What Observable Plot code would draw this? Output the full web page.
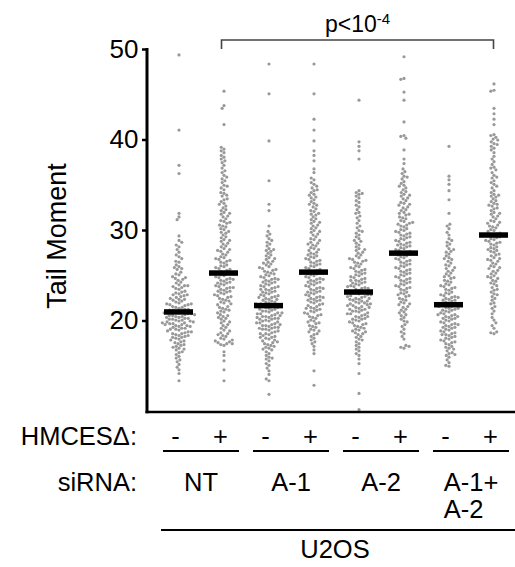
<!DOCTYPE html>
<html><head><meta charset="utf-8">
<script src="https://cdn.jsdelivr.net/npm/d3@7"></script>
<script src="https://cdn.jsdelivr.net/npm/@observablehq/plot@0.6"></script>
<style>
html,body{margin:0;padding:0;background:#fff;overflow:hidden}
#chart{position:relative;width:515px;height:567px}
</style></head><body><div id="chart"></div>
<script>
// ---- categories / labels ----
const siRNA = ["NT", "A-1", "A-2", "A-1+"];
const siRNASecondLine = ["", "", "", "A-2"];
const hmces = ["-", "+"];
const groups = ["NT -", "NT +", "A-1 -", "A-1 +", "A-2 -", "A-2 +", "A-1+A-2 -", "A-1+A-2 +"];
const medians = [21.0, 25.3, 21.7, 25.4, 23.2, 27.5, 21.8, 29.5];
const yTicks = [20, 30, 40, 50];
const yLabel = "Tail Moment";
const pLabel = "p<10";
const pExp = "-4";
const cellLine = "U2OS";

// ---- tail moment values per group ----
const ntMinus = [49.4,41.1,37.2,36.3,31.9,31.5,31.2,29.4,28.9,28.2,28.4,28.7,27.1,27.3,27.6,27.9,26.0,26.2,26.5,26.6,26.9,
25.1,25.2,25.4,25.7,25.8,25.9,24.0,24.2,24.3,24.5,24.6,24.7,24.8,24.9,23.0,23.1,23.2,23.3,23.5,23.6,23.7,23.8,23.9,23.9,
22.0,22.1,22.2,22.3,22.4,22.4,22.6,22.7,22.8,22.9,22.9,22.5,21.0,21.0,21.1,21.2,21.3,21.3,21.4,21.5,21.5,21.6,21.7,21.8,21.8,21.9,21.9,21.2,
20.0,20.1,20.1,20.2,20.3,20.3,20.4,20.5,20.5,20.6,20.6,20.7,20.8,20.8,20.9,20.9,20.2,20.4,20.7,20.0,
19.0,19.1,19.2,19.2,19.3,19.4,19.5,19.5,19.6,19.7,19.7,19.8,19.9,19.9,19.1,19.4,19.6,19.8,
18.0,18.1,18.2,18.3,18.4,18.5,18.6,18.6,18.7,18.8,18.9,18.2,18.4,18.8,17.0,17.2,17.3,17.4,17.5,17.6,17.7,17.8,17.9,17.1,
16.1,16.3,16.5,16.6,16.8,16.9,15.2,15.5,15.7,15.9,14.2,14.6,14.9,13.4];
const ntPlus = [45.4,43.8,43.5,41.7,39.0,39.2,38.1,38.3,38.6,38.8,37.2,37.5,37.7,37.9,36.1,36.4,36.6,36.9,35.0,35.3,35.5,35.7,35.9,
34.1,34.2,34.5,34.7,34.9,33.0,33.2,33.4,33.5,33.8,33.9,32.0,32.2,32.3,32.5,32.7,32.9,31.0,31.1,31.3,31.5,31.6,31.8,31.9,
30.1,30.2,30.4,30.5,30.6,30.8,30.9,29.0,29.2,29.3,29.5,29.7,29.8,29.9,28.0,28.2,28.3,28.5,28.6,28.8,28.9,
27.0,27.1,27.3,27.4,27.6,27.7,27.8,27.9,26.0,26.1,26.2,26.4,26.5,26.6,26.7,26.8,26.9,
25.0,25.1,25.2,25.3,25.4,25.5,25.6,25.7,25.8,25.9,25.3,24.0,24.1,24.2,24.3,24.4,24.5,24.6,24.7,24.8,24.9,24.2,24.6,
23.0,23.1,23.2,23.3,23.4,23.5,23.6,23.7,23.8,23.9,23.3,23.7,22.0,22.1,22.3,22.4,22.5,22.6,22.7,22.8,22.9,22.2,
21.0,21.1,21.3,21.4,21.5,21.6,21.8,21.9,21.2,20.0,20.2,20.3,20.5,20.6,20.7,20.9,20.4,19.0,19.2,19.3,19.5,19.6,19.8,19.9,
18.0,18.1,18.3,18.4,18.6,18.7,18.9,18.5,17.3,17.4,17.5,17.6,17.7,17.8,17.9,17.5,16.2,16.6,15.6,14.6,13.4];
const a1Minus = [48.4,45.1,39.9,35.5,32.9,32.2,30.5,29.1,29.4,29.6,29.9,28.0,28.3,28.5,28.7,28.9,27.0,27.2,27.3,27.5,27.7,27.8,27.9,
26.0,26.2,26.3,26.5,26.6,26.8,26.9,26.4,25.0,25.1,25.3,25.4,25.5,25.6,25.7,25.8,25.9,25.2,
24.0,24.1,24.2,24.3,24.4,24.5,24.6,24.7,24.8,24.9,24.3,24.6,23.0,23.1,23.2,23.3,23.4,23.5,23.6,23.7,23.8,23.9,23.2,23.5,23.8,
22.0,22.1,22.2,22.3,22.4,22.5,22.6,22.7,22.8,22.9,22.1,22.4,22.6,22.8,
21.0,21.1,21.2,21.3,21.4,21.5,21.6,21.7,21.8,21.9,21.1,21.3,21.5,21.6,21.8,21.9,
20.0,20.1,20.2,20.3,20.4,20.5,20.6,20.7,20.8,20.9,20.0,20.2,20.3,20.5,20.6,20.8,20.9,20.4,
19.0,19.1,19.2,19.3,19.4,19.5,19.6,19.7,19.8,19.9,19.1,19.3,19.5,19.6,19.8,19.2,
18.0,18.1,18.2,18.3,18.5,18.6,18.7,18.8,18.9,18.4,18.6,18.2,17.0,17.1,17.3,17.4,17.5,17.6,17.8,17.9,17.2,17.7,
16.0,16.2,16.4,16.6,16.8,16.9,15.1,15.3,15.6,15.8,15.9,14.1,14.5,14.8,13.4,13.6,11.9];
const a1Plus = [48.4,45.1,42.3,41.1,39.9,38.8,38.3,37.7,36.8,36.4,35.1,35.3,35.6,35.8,34.0,34.2,34.4,34.5,34.7,34.9,
33.0,33.2,33.4,33.6,33.7,33.9,32.1,32.2,32.4,32.6,32.8,32.9,31.0,31.2,31.3,31.5,31.7,31.8,31.9,
30.0,30.2,30.3,30.5,30.6,30.8,30.9,29.0,29.1,29.3,29.5,29.6,29.8,29.9,28.0,28.1,28.3,28.4,28.6,28.7,28.9,28.5,
27.0,27.1,27.2,27.4,27.5,27.6,27.8,27.9,27.3,26.0,26.1,26.2,26.3,26.4,26.5,26.6,26.7,26.8,26.9,
25.0,25.1,25.2,25.3,25.4,25.5,25.6,25.7,25.8,25.9,25.2,25.5,24.0,24.1,24.2,24.3,24.4,24.5,24.6,24.7,24.8,24.9,24.3,24.6,
23.0,23.1,23.2,23.3,23.4,23.5,23.6,23.7,23.8,23.9,23.2,23.6,22.0,22.1,22.2,22.3,22.4,22.5,22.6,22.7,22.8,22.9,22.3,22.6,
21.0,21.1,21.2,21.3,21.4,21.5,21.6,21.7,21.8,21.9,21.4,20.0,20.1,20.3,20.4,20.5,20.6,20.7,20.8,20.9,
19.0,19.1,19.3,19.4,19.5,19.7,19.8,19.9,18.1,18.3,18.5,18.6,18.8,18.9,17.2,17.5,17.7,17.9,16.4,16.8,14.5,12.9];
const a2Minus = [44.4,39.8,39.3,38.8,37.9,34.0,34.2,34.4,34.1,33.1,33.3,33.6,33.8,32.0,32.3,32.6,32.8,31.1,31.4,31.6,31.9,
30.0,30.3,30.5,30.8,29.1,29.3,29.5,29.7,29.9,28.0,28.2,28.4,28.6,28.8,28.9,27.0,27.2,27.3,27.5,27.6,27.8,27.9,
26.0,26.1,26.3,26.4,26.5,26.6,26.7,26.8,26.9,25.0,25.1,25.2,25.3,25.4,25.5,25.6,25.7,25.8,25.9,
24.0,24.1,24.2,24.3,24.4,24.5,24.6,24.7,24.8,24.9,24.2,24.5,23.0,23.1,23.2,23.3,23.4,23.5,23.6,23.7,23.8,23.9,23.1,23.3,23.6,23.8,
22.0,22.1,22.2,22.3,22.4,22.5,22.6,22.7,22.8,22.9,22.0,22.2,22.4,22.5,22.7,22.9,
21.0,21.1,21.2,21.3,21.4,21.5,21.6,21.7,21.8,21.9,21.1,21.3,21.5,21.7,21.9,20.0,20.1,20.2,20.3,20.4,20.5,20.6,20.7,20.8,20.9,20.2,20.5,20.8,
19.0,19.1,19.3,19.4,19.5,19.6,19.7,19.8,19.9,19.2,18.0,18.2,18.3,18.5,18.6,18.7,18.8,18.9,17.1,17.3,17.5,17.7,17.9,
16.2,16.4,16.7,16.9,15.3,15.8,14.2,12.0,10.2];
const a2Plus = [49.2,46.8,46.7,45.3,44.4,42.0,40.5,40.4,40.2,38.9,37.9,37.4,36.0,36.3,36.5,36.8,35.0,35.2,35.4,35.7,35.9,
34.0,34.2,34.3,34.5,34.7,34.9,33.0,33.1,33.3,33.5,33.6,33.8,33.9,32.0,32.2,32.3,32.5,32.6,32.8,32.9,
31.0,31.1,31.3,31.4,31.5,31.7,31.8,31.9,30.0,30.1,30.2,30.4,30.5,30.6,30.7,30.8,30.9,
29.0,29.1,29.2,29.3,29.4,29.5,29.6,29.7,29.8,29.9,28.0,28.1,28.2,28.3,28.4,28.5,28.6,28.7,28.8,28.9,28.4,
27.0,27.1,27.2,27.3,27.4,27.5,27.6,27.7,27.8,27.9,27.5,26.0,26.1,26.2,26.3,26.4,26.5,26.6,26.7,26.8,26.9,
25.0,25.1,25.2,25.3,25.4,25.5,25.6,25.7,25.8,25.9,24.0,24.1,24.2,24.3,24.4,24.5,24.6,24.7,24.8,24.9,
23.0,23.1,23.2,23.4,23.5,23.6,23.7,23.8,23.9,22.0,22.1,22.3,22.4,22.5,22.7,22.8,22.9,21.0,21.2,21.3,21.5,21.6,21.8,21.9,
20.0,20.2,20.4,20.6,20.7,20.9,19.1,19.4,19.6,19.9,18.0,18.3,18.6,18.8,17.0,17.1,17.3,17.2];
const a12Minus = [39.3,36.0,35.6,35.1,34.4,33.4,31.9,30.2,30.5,30.7,29.1,29.5,29.8,28.0,28.3,28.5,28.7,28.9,27.0,27.2,27.4,27.6,27.7,27.9,
26.1,26.2,26.4,26.6,26.8,26.9,25.0,25.2,25.3,25.5,25.6,25.8,25.9,24.0,24.1,24.3,24.4,24.5,24.7,24.8,24.9,
23.0,23.1,23.2,23.4,23.5,23.6,23.7,23.8,23.9,22.0,22.1,22.2,22.3,22.4,22.5,22.6,22.7,22.8,22.9,22.3,22.6,
21.0,21.1,21.2,21.3,21.4,21.5,21.6,21.7,21.8,21.9,21.2,21.4,21.6,21.8,20.0,20.1,20.2,20.3,20.4,20.5,20.6,20.7,20.8,20.9,20.3,20.5,20.7,
19.0,19.1,19.2,19.3,19.4,19.5,19.6,19.7,19.8,19.9,19.3,19.6,18.0,18.1,18.2,18.3,18.4,18.5,18.6,18.7,18.8,18.9,18.5,
17.0,17.1,17.2,17.4,17.5,17.6,17.7,17.8,17.9,16.0,16.2,16.4,16.5,16.7,16.9,16.3,15.0,15.1,15.4,15.7];
const a12Plus = [46.2,45.5,45.4,43.5,42.9,42.3,41.7,40.6,40.5,40.3,40.1,40.0,39.1,39.3,39.6,39.8,39.5,38.2,38.6,38.9,37.0,37.3,37.6,37.9,
36.1,36.4,36.7,36.9,35.1,35.3,35.5,35.8,35.9,34.0,34.2,34.4,34.7,34.9,33.0,33.2,33.3,33.5,33.7,33.8,33.9,
32.0,32.2,32.4,32.5,32.7,32.8,32.9,31.0,31.1,31.3,31.5,31.6,31.8,31.9,30.0,30.1,30.3,30.4,30.5,30.6,30.8,30.9,
29.0,29.1,29.2,29.3,29.4,29.5,29.6,29.7,29.9,28.0,28.1,28.2,28.4,28.5,28.6,28.7,28.8,28.9,
27.0,27.2,27.3,27.4,27.6,27.7,27.8,27.9,26.0,26.1,26.3,26.4,26.6,26.7,26.8,26.9,25.0,25.2,25.3,25.5,25.6,25.8,25.9,
24.1,24.2,24.4,24.5,24.7,24.8,24.9,23.0,23.2,23.4,23.5,23.7,23.9,22.0,22.3,22.5,22.7,22.9,21.1,21.4,21.6,21.9,
20.1,20.4,20.8,19.2,19.5,19.8,18.6,18.7,18.8];

const series = [ntMinus, ntPlus, a1Minus, a1Plus, a2Minus, a2Plus, a12Minus, a12Plus];
const points = series.flatMap((vals, i) => vals.map(v => ({group: groups[i], value: v})));
const medianRows = groups.map((g, i) => ({group: g, median: medians[i]}));

const font = "Helvetica, 'Liberation Sans', Arial, sans-serif";
const plot = Plot.plot({
  width: 515, height: 567,
  marginTop: 49, marginBottom: 156, marginLeft: 152, marginRight: 0,
  style: {fontFamily: font, fontSize: "25px", background: "#fff", color: "#000"},
  fx: {domain: groups, range: [152, 519], padding: 0, axis: null},
  y: {domain: [10, 50]},
  marks: [
    Plot.axisY({ticks: yTicks, tickSize: 5, tickPadding: 4, strokeWidth: 2.5, fontSize: 26, dx: -9, label: null, stroke: "#000", fill: "#000"}),
    Plot.dot(points, Plot.dodgeX({anchor: "middle", padding: 0.1, r: 1.6}, {fx: "group", y: "value", r: 1.6, fill: "#999"})),
    Plot.tickY(medianRows, {fx: "group", y: "median", stroke: "#000", strokeWidth: 5.5, insetLeft: 8, insetRight: 8})
  ]
});
document.getElementById("chart").append(plot);

// ---- annotations positioned from the plot's own scales ----
const fx = plot.scale("fx"), ys = plot.scale("y");
const left = g => fx.apply(g);
const cx = g => fx.apply(g) + fx.bandwidth / 2;
const svg = d3.select(plot);
const ann = svg.append("g").attr("font-family", font).attr("font-size", 25.5).attr("fill", "#000");
const axisX = left(groups[0]) - 9;
const yTop = ys.apply(50), yBot = ys.apply(10);

// axis lines
ann.append("line").attr("x1", axisX).attr("x2", axisX).attr("y1", yTop - 1).attr("y2", yBot + 2.3)
  .attr("stroke", "#000").attr("stroke-width", 3);
ann.append("line").attr("x1", axisX - 1.5).attr("x2", 515).attr("y1", yBot + 1).attr("y2", yBot + 1)
  .attr("stroke", "#000").attr("stroke-width", 2.5);

// y label
ann.append("text").attr("transform", `translate(66,${(yTop + yBot) / 2 + 6}) rotate(-90)`)
  .attr("text-anchor", "middle").attr("font-size", 27).text(yLabel);

// significance bracket
const bx1 = cx(groups[1]) - 2, bx2 = cx(groups[7]), by = yTop - 9;
ann.append("path").attr("d", `M${bx1},${by + 9}V${by}H${bx2}V${by + 9}`)
  .attr("fill", "none").attr("stroke", "#444").attr("stroke-width", 1.6);
const pt = ann.append("text").attr("x", (bx1 + bx2) / 2).attr("y", 31.5).attr("text-anchor", "middle").attr("font-size", 23);
pt.append("tspan").text(pLabel);
pt.append("tspan").attr("font-size", 15).attr("dy", -8).text(pExp);

// label rows
const row1 = yBot + 34, row2 = yBot + 80, row3 = yBot + 107, lineY1 = yBot + 40, lineY2 = yBot + 119, row4 = yBot + 147;
ann.append("text").attr("x", 137).attr("y", row1).attr("text-anchor", "end").text("HMCESΔ:");
groups.forEach((g, i) => {
  ann.append("text").attr("x", cx(g) - 3).attr("y", row1).attr("text-anchor", "middle").text(hmces[i % 2]);
});
ann.append("text").attr("x", 137).attr("y", row2).attr("text-anchor", "end").text("siRNA:");
siRNA.forEach((s, k) => {
  const mid = left(groups[2 * k + 1]);
  ann.append("line").attr("x1", mid - 38).attr("x2", mid + 38).attr("y1", lineY1).attr("y2", lineY1)
    .attr("stroke", "#000").attr("stroke-width", 2);
  const t = ann.append("text").attr("x", mid).attr("y", row2).attr("text-anchor", "middle").text(s);
  if (siRNASecondLine[k]) {
    const bb = t.node().getBBox();
    ann.append("text").attr("x", bb.x).attr("y", row3).attr("text-anchor", "start").text(siRNASecondLine[k]);
  }
});
const ulx1 = left(groups[0]) + 5;
ann.append("line").attr("x1", ulx1).attr("x2", 515).attr("y1", lineY2).attr("y2", lineY2)
  .attr("stroke", "#000").attr("stroke-width", 2);
ann.append("text").attr("x", (ulx1 + 515) / 2 - 3).attr("y", row4).attr("text-anchor", "middle").text(cellLine);
</script></body></html>
